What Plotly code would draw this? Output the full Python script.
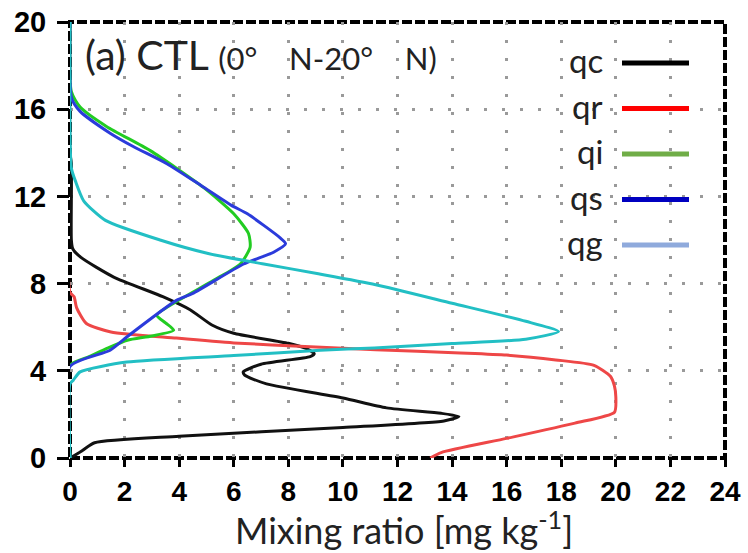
import plotly.graph_objects as go

# ---- data ----
qc_h = [0, 0.3, 0.7, 1.0, 1.4, 1.7, 1.9, 2.05, 2.3, 2.75, 3.4, 3.8, 3.95, 4.3, 4.65, 4.78, 5.0, 5.26, 5.72, 6.1, 6.8, 7.4, 8.3, 9.2, 9.6, 10.0, 13.5, 14.0, 20]
qc_x = [0, 0.4, 0.9, 4.0, 10.0, 13.7, 14.25, 13.6, 11.6, 10.0, 7.2, 6.4, 6.35, 7.0, 8.8, 8.95, 8.7, 8.0, 6.0, 5.2, 4.4, 3.4, 1.6, 0.4, 0.1, 0.05, 0.05, 0, 0]

qr_h = [0, 0.25, 0.9, 1.6, 2.1, 2.8, 3.3, 3.75, 4.25, 4.5, 4.72, 4.82, 4.97, 5.1, 5.28, 5.5, 5.78, 6.17, 6.9, 7.4, 7.6, 20]
qr_x = [13.2, 13.6, 16.0, 18.5, 19.95, 20.0, 19.95, 19.8, 19.2, 17.8, 16.0, 14.3, 11.2, 8.8, 6.0, 3.9, 1.5, 0.6, 0.24, 0.15, 0, 0]

qi_h = [0, 4.25, 4.65, 5.05, 5.4, 5.6, 5.86, 6.2, 6.55, 7.1, 8.15, 8.9, 9.67, 10.3, 11.2, 12.4, 14.1, 15.2, 16.1, 16.8, 20]
qi_x = [0, 0, 0.7, 1.4, 2.1, 3.0, 3.8, 3.5, 3.18, 3.8, 5.26, 6.24, 6.6, 6.54, 6.0, 4.9, 2.94, 1.35, 0.37, 0.05, 0]

qs_h = [0, 4.2, 4.94, 5.55, 7.23, 7.55, 8.9, 9.44, 9.83, 10.1, 11.2, 11.6, 12.5, 13.5, 14.3, 14.9, 15.9, 16.5, 20]
qs_x = [0, 0, 1.47, 2.08, 3.9, 4.5, 6.36, 7.46, 7.9, 7.7, 6.5, 5.9, 4.8, 3.55, 2.3, 1.47, 0.37, 0.06, 0]

qg_h = [0, 3.4, 3.57, 3.95, 4.4, 4.7, 4.94, 5.05, 5.25, 5.45, 5.8, 6.27, 7.1, 7.95, 8.45, 8.9, 9.37, 10.0, 10.9, 11.8, 12.7, 13.3, 20]
qg_x = [0, 0, 0.12, 0.37, 2.08, 6.0, 9.17, 11.15, 14.0, 16.7, 17.9, 16.7, 14.0, 11.2, 9.1, 7.1, 5.1, 3.3, 1.3, 0.5, 0.2, 0.05, 0]

species = ["qc", "qr", "qi", "qs", "qg"]
curve_colors = ["#111111", "#EE4747", "#22CC22", "#2B3BDB", "#22BFC4"]
legend_colors = ["#000000", "#FF0000", "#70AD47", "#0000C0", "#8FAADC"]
x_ticks = list(range(0, 25, 2))
y_ticks = list(range(0, 21, 4))

series = [(qc_x, qc_h), (qr_x, qr_h), (qi_x, qi_h), (qs_x, qs_h), (qg_x, qg_h)]

fig = go.Figure()
for name, (xs, hs), col in zip(species, series, curve_colors):
    fig.add_trace(go.Scatter(x=xs, y=hs, mode="lines", name=name,
                             line=dict(color=col, width=3, shape="spline", smoothing=0.6),
                             showlegend=False, cliponaxis=False))

L, R, T, B = 70, 23, 22, 95
W, H = 748, 553
pw, ph = W - L - R, H - T - B

def px2x(px):
    return (px - L) / pw

def py2y(py):
    return (H - B - py) / ph

annotations = []
shapes = []

# title
sp = "&nbsp;" * 4
annotations.append(dict(
    x=px2x(83), y=py2y(54), xref="paper", yref="paper", xanchor="left", yanchor="middle",
    text=("(a) CTL&nbsp;<span style='font-size:31px'>(0°" + sp + "N-20°" + sp + "N)</span>"),
    showarrow=False, font=dict(family="Lato", size=41, color="#222222")))

# legend (text left, line right)
row0, drow = 63, 45.5
for i, (name, col) in enumerate(zip(species, legend_colors)):
    yc = row0 + i * drow
    annotations.append(dict(
        x=px2x(605), y=py2y(yc - 3), xref="paper", yref="paper", xanchor="right", yanchor="middle",
        text=name, showarrow=False, font=dict(family="Lato", size=33, color="#222222")))
    shapes.append(dict(type="line", xref="paper", yref="paper",
                       x0=px2x(622), x1=px2x(689), y0=py2y(yc), y1=py2y(yc),
                       line=dict(color=col, width=5)))

# x-axis title
annotations.append(dict(
    x=px2x(404), y=py2y(528), xref="paper", yref="paper", xanchor="center", yanchor="middle",
    text="Mixing ratio [mg kg<sup>-1</sup>]", showarrow=False,
    font=dict(family="Lato", size=36, color="#222222")))

# dashed frame
shapes.append(dict(type="rect", xref="paper", yref="paper", x0=0, x1=1, y0=0, y1=1,
                   line=dict(color="black", width=4, dash="10px,3px"), layer="between"))

fig.update_layout(
    width=W, height=H,
    margin=dict(l=L, r=R, t=T, b=B, autoexpand=False),
    paper_bgcolor="white", plot_bgcolor="white",
    annotations=annotations, shapes=shapes,
)
fig.update_xaxes(range=[0, 24], tickvals=x_ticks, ticktext=[str(v) for v in x_ticks],
                 showline=False, zeroline=False, showgrid=True,
                 gridcolor="#9a9a9a", gridwidth=3, griddash="3px,15px",
                 ticks="outside", ticklen=8, tickwidth=3, tickcolor="black",
                 ticklabelstandoff=0,
                 tickfont=dict(family="Liberation Sans", size=28, color="black", weight="bold"))
fig.update_yaxes(range=[0, 20], tickvals=y_ticks, ticktext=[str(v) for v in y_ticks],
                 showline=False, zeroline=False, showgrid=True,
                 gridcolor="#9a9a9a", gridwidth=3, griddash="3px,15px",
                 ticks="outside", ticklen=12, tickwidth=3, tickcolor="black",
                 ticklabelstandoff=5,
                 tickfont=dict(family="Liberation Sans", size=29, color="black", weight="bold"))

fig.write_html("out.html")
